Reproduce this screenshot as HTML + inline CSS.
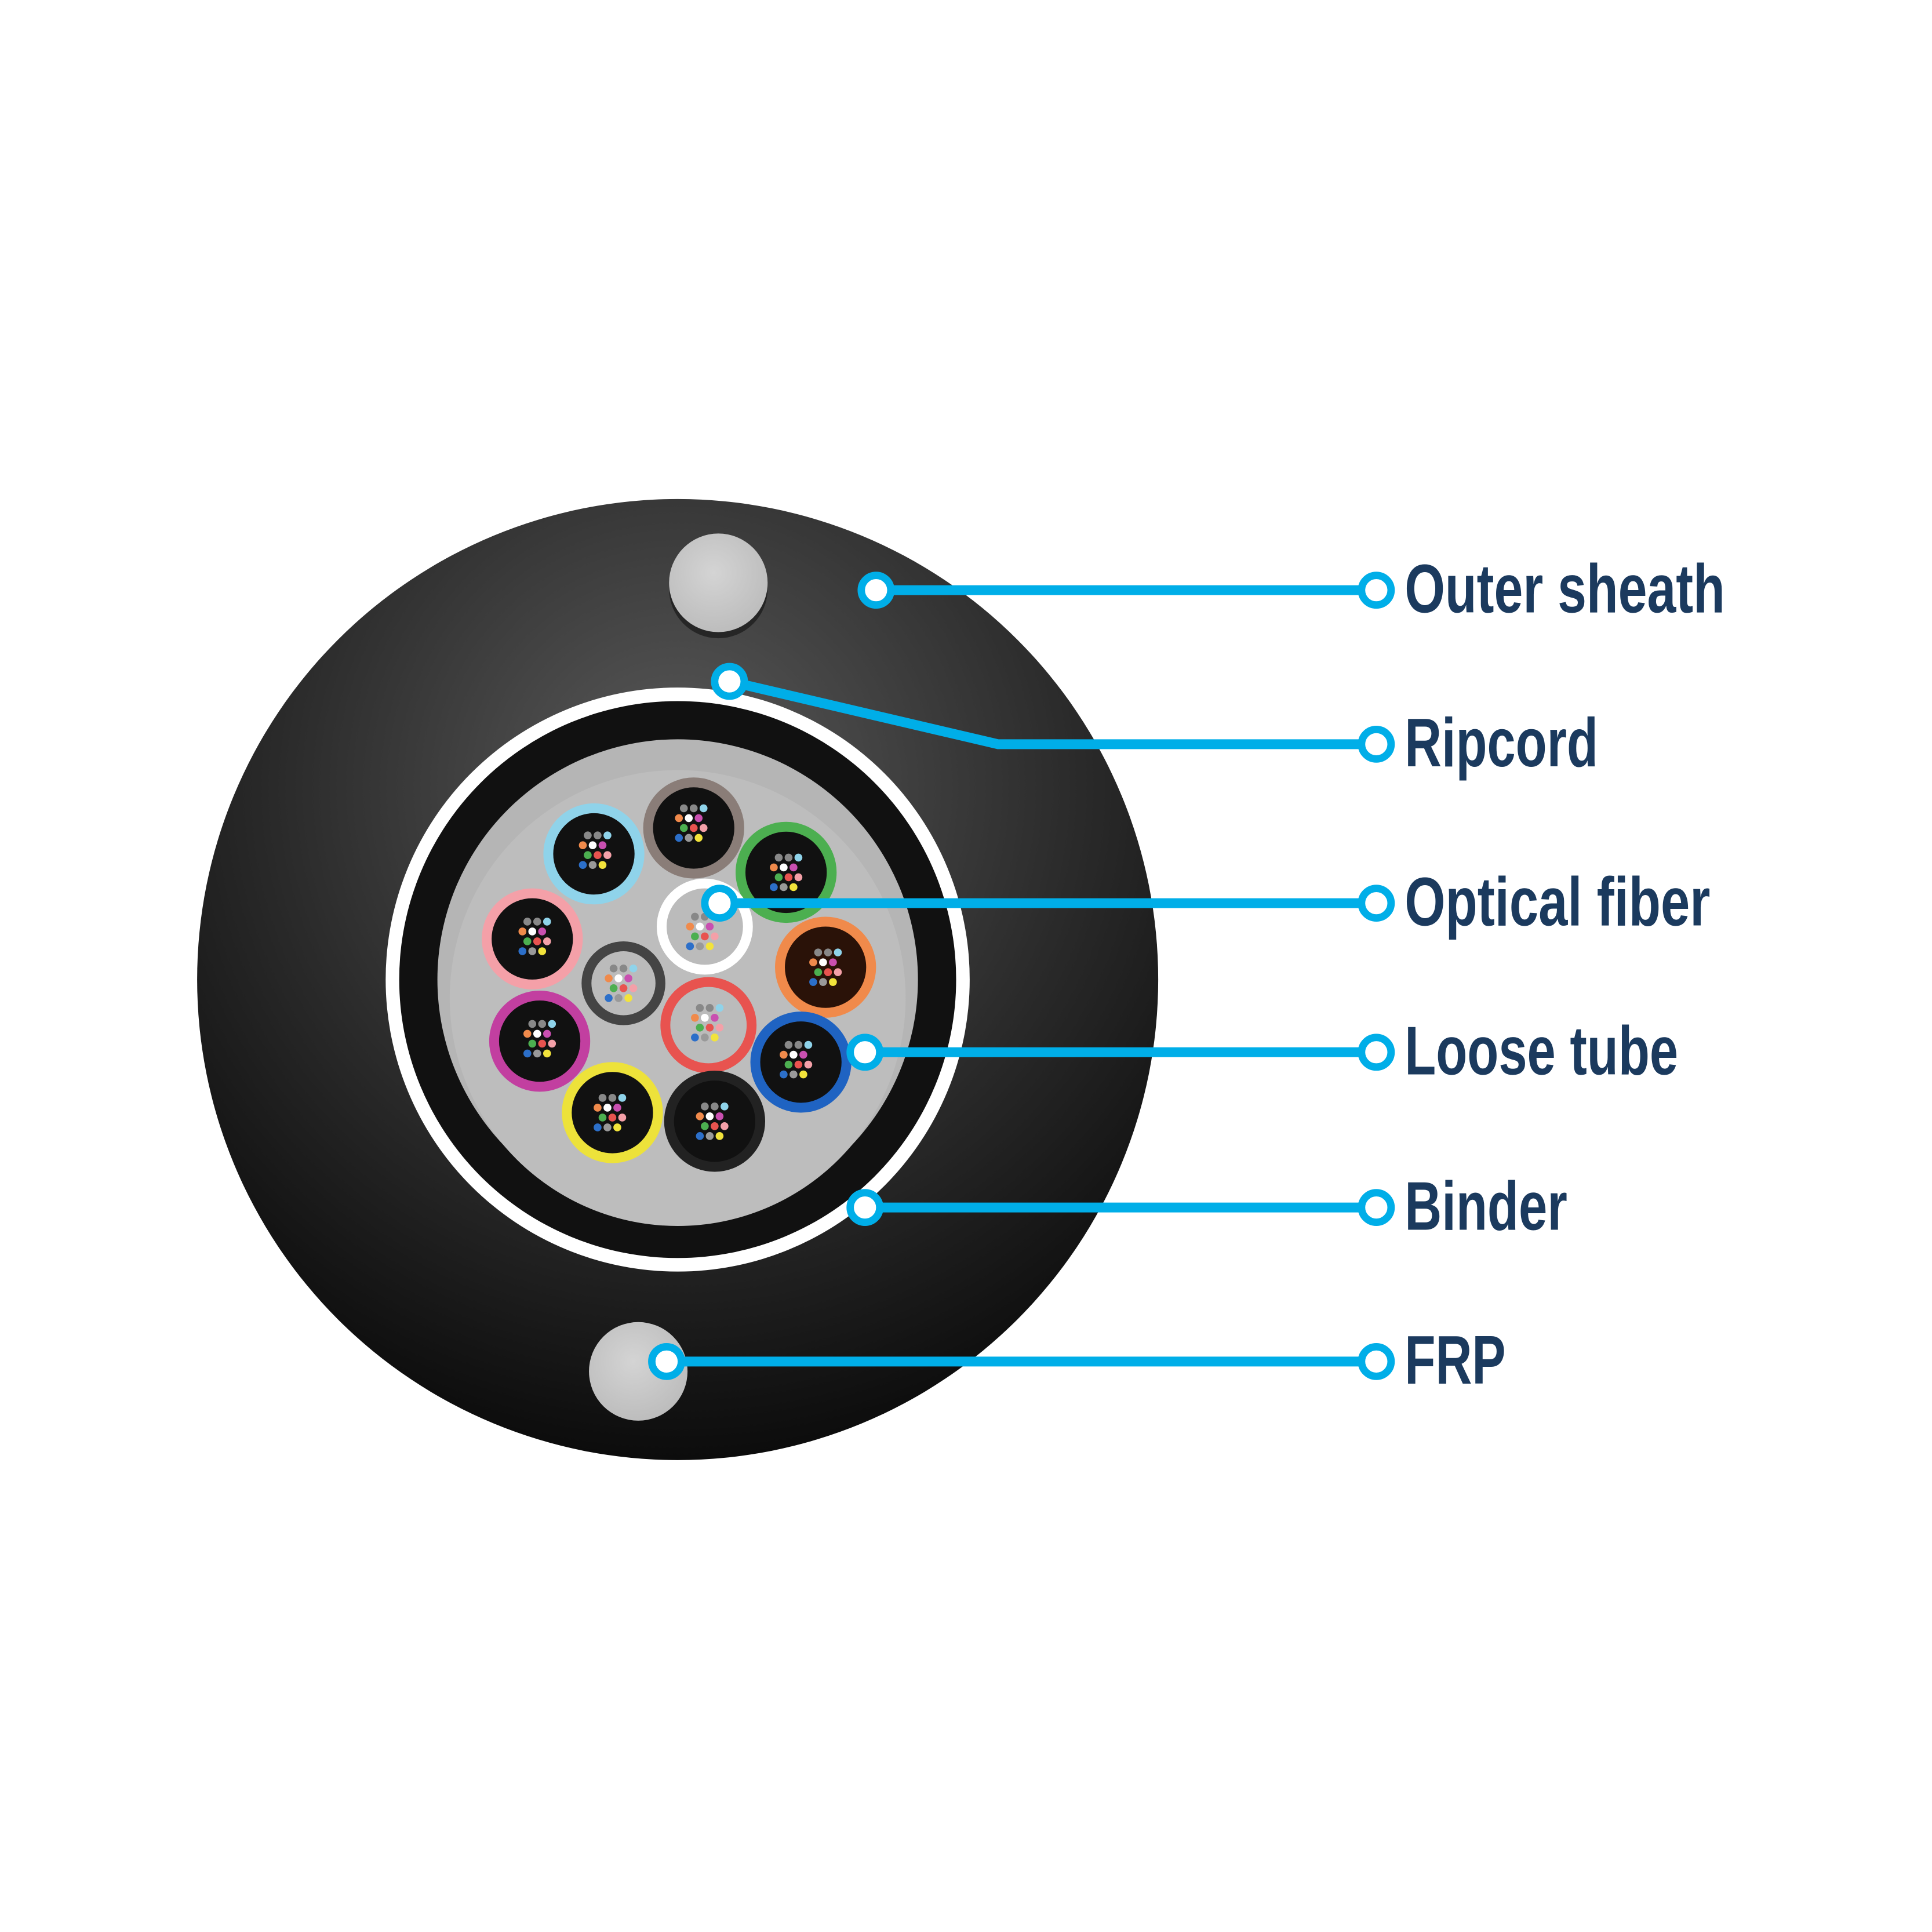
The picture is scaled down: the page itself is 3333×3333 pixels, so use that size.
<!DOCTYPE html>
<html><head><meta charset="utf-8"><style>html,body{margin:0;padding:0;background:#fff}svg{display:block}</style></head><body>
<svg width="3333" height="3333" viewBox="0 0 1568 1568" xmlns="http://www.w3.org/2000/svg">
<defs>
<radialGradient id="sh" cx="0.5" cy="0.3" r="0.7"><stop offset="0" stop-color="#5a5a5a"/><stop offset="0.6" stop-color="#2a2a2a"/><stop offset="1" stop-color="#0c0c0c"/></radialGradient>
<radialGradient id="frp" cx="0.45" cy="0.4" r="0.6"><stop offset="0" stop-color="#d4d4d4"/><stop offset="1" stop-color="#bdbdbd"/></radialGradient>
<g id="fib">
<circle cx="-8" cy="-12" r="3.2" fill="#888"/><circle cx="0" cy="-12" r="3.2" fill="#888"/><circle cx="8" cy="-12" r="3.2" fill="#8fd3ea"/>
<circle cx="-12" cy="-4" r="3.2" fill="#f08a4b"/><circle cx="-4" cy="-4" r="3.2" fill="#fff"/><circle cx="4" cy="-4" r="3.2" fill="#c94fb0"/>
<circle cx="-8" cy="4" r="3.2" fill="#4caf50"/><circle cx="0" cy="4" r="3.2" fill="#e8534f"/><circle cx="8" cy="4" r="3.2" fill="#f4a0a8"/>
<circle cx="-12" cy="12" r="3.2" fill="#2c6fc9"/><circle cx="-4" cy="12" r="3.2" fill="#999"/><circle cx="4" cy="12" r="3.2" fill="#f2e33b"/>
</g>
</defs>
<rect width="1568" height="1568" fill="#fff"/>
<circle cx="550" cy="795" r="390" fill="url(#sh)"/>
<circle cx="583" cy="478" r="40" fill="#111" opacity="0.6"/>
<circle cx="583" cy="473" r="40" fill="url(#frp)"/>
<circle cx="518" cy="1113" r="40" fill="url(#frp)"/>
<circle cx="550" cy="795" r="237" fill="#fff"/>
<circle cx="550" cy="795" r="226" fill="#111"/>
<circle cx="550" cy="795" r="195" fill="#b5b5b5"/>
<circle cx="550" cy="810" r="185" fill="#bdbdbd"/>
<g stroke-width="8">
<g><circle cx="563" cy="672" r="37" fill="#111" stroke="#8a7d78"/><use href="#fib" x="563" y="668"/></g>
<g><circle cx="482" cy="693" r="37" fill="#111" stroke="#8fd3ea"/><use href="#fib" x="485" y="690"/></g>
<g><circle cx="638" cy="708" r="37" fill="#111" stroke="#4caf50"/><use href="#fib" x="640" y="708"/></g>
<g><circle cx="432" cy="762" r="37" fill="#111" stroke="#f4a0a8"/><use href="#fib" x="436" y="760"/></g>
<g><circle cx="572" cy="752" r="35" fill="#bbb" stroke="#fff"/><use href="#fib" x="572" y="756"/></g>
<g><circle cx="670" cy="785" r="37" fill="#2a1208" stroke="#f08a4b"/><use href="#fib" x="672" y="785"/></g>
<g><circle cx="506" cy="798" r="30" fill="#bbb" stroke="#444"/><use href="#fib" x="506" y="798"/></g>
<g><circle cx="575" cy="832" r="35" fill="#bbb" stroke="#e8534f"/><use href="#fib" x="576" y="830"/></g>
<g><circle cx="438" cy="845" r="37" fill="#111" stroke="#c23fa0"/><use href="#fib" x="440" y="843"/></g>
<g><circle cx="650" cy="862" r="37" fill="#111" stroke="#1f63c2"/><use href="#fib" x="648" y="860"/></g>
<g><circle cx="497" cy="903" r="37" fill="#111" stroke="#ede23a"/><use href="#fib" x="497" y="903"/></g>
<g><circle cx="580" cy="910" r="37" fill="#111" stroke="#222"/><use href="#fib" x="580" y="910"/></g>
</g>
<g stroke="#00aee8" stroke-width="8" fill="none">
<line x1="711" y1="479" x2="1105" y2="479"/>
<polyline points="592,553 810,604 1105,604"/>
<line x1="584" y1="733" x2="1105" y2="733"/>
<line x1="702" y1="854" x2="1105" y2="854"/>
<line x1="702" y1="980" x2="1105" y2="980"/>
<line x1="541" y1="1105" x2="1105" y2="1105"/>
</g>
<g fill="#fff" stroke="#00aee8" stroke-width="6">
<circle cx="711" cy="479" r="12"/><circle cx="592" cy="553" r="12"/><circle cx="584" cy="733" r="12"/>
<circle cx="702" cy="854" r="12"/><circle cx="702" cy="980" r="12"/><circle cx="541" cy="1105" r="12"/>
<circle cx="1117" cy="479" r="12"/><circle cx="1117" cy="604" r="12"/><circle cx="1117" cy="733" r="12"/>
<circle cx="1117" cy="854" r="12"/><circle cx="1117" cy="980" r="12"/><circle cx="1117" cy="1105" r="12"/>
</g>
<g font-family="Liberation Sans, sans-serif" font-weight="bold" font-size="56" fill="#1b3a5e" lengthAdjust="spacingAndGlyphs">
<text x="1140" y="497" textLength="260" lengthAdjust="spacingAndGlyphs">Outer sheath</text>
<text x="1140" y="622" textLength="157" lengthAdjust="spacingAndGlyphs">Ripcord</text>
<text x="1140" y="751" textLength="248" lengthAdjust="spacingAndGlyphs">Optical fiber</text>
<text x="1140" y="872" textLength="222" lengthAdjust="spacingAndGlyphs">Loose tube</text>
<text x="1140" y="998" textLength="132" lengthAdjust="spacingAndGlyphs">Binder</text>
<text x="1140" y="1123" textLength="82" lengthAdjust="spacingAndGlyphs">FRP</text>
</g>
</svg>
</body></html>
